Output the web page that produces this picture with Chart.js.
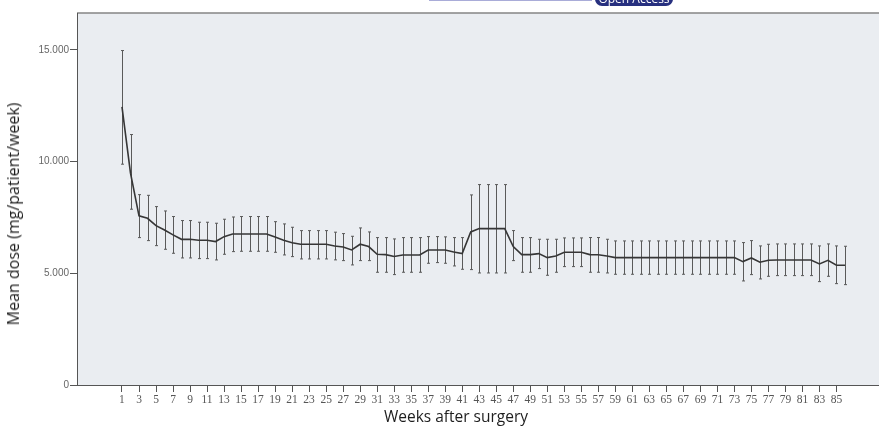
<!DOCTYPE html>
<html>
<head>
<meta charset="utf-8">
<script src="https://cdn.jsdelivr.net/npm/chart.js@4.4.1/dist/chart.umd.min.js"></script>
<style>
  body { margin: 0; background: #fff; }
  #wrap { position: relative; width: 879px; height: 426px; overflow: hidden; }
  #doseChart { position: absolute; left: 0; top: 0; }
  .hdrLine { position: absolute; left: 429px; top: 0; width: 163px; height: 1px; background: #a9acd8; }
  .badge { position: absolute; left: 595px; top: -9px; width: 78px; height: 15px; border-radius: 7px;
           background: #27307f; color: #fff; font: 12px "Open Sans", sans-serif; line-height: 15px; text-align: center; }
  .axTitle { position: absolute; font-family: "Open Sans", sans-serif; font-weight: 400; color: #1e1e1e; white-space: nowrap; }
  #yTitle { left: 13px; top: 214px; font-size: 16px; transform: translate(-50%, -50%) rotate(-90deg); }
  #xTitle { left: 456px; top: 416px; font-size: 15.5px; transform: translate(-50%, -50%); }
</style>
</head>
<body>
<div id="wrap">
  <canvas id="doseChart" width="879" height="426"></canvas>
  <div class="hdrLine"></div>
  <div class="badge">Open Access</div>
  <div class="axTitle" id="yTitle">Mean dose (mg/patient/week)</div>
  <div class="axTitle" id="xTitle">Weeks after surgery</div>
</div>
<script>
// semanas 1..86
var weeks = [];
for (var w = 1; w <= 86; w++) weeks.push(w);

var weekLabels = [1, 3, 5, 7, 9, 11, 13, 15, 17, 19, 21, 23, 25, 27, 29, 31, 33, 35, 37, 39, 41,
    43, 45, 47, 49, 51, 53, 55, 57, 59, 61, 63, 65, 67, 69, 71, 73, 75, 77, 79, 81, 83, 85];
var doseTicks = [0, 5000, 10000, 15000];

var meanDose = [
    12450, 9480, 7570, 7460, 7135, 6940, 6720, 6520, 6520, 6480,
    6480, 6420, 6640, 6760, 6760, 6760, 6760, 6760, 6620, 6480,
    6370, 6300, 6300, 6300, 6300, 6220, 6180, 6045, 6300, 6195,
    5850, 5836, 5750, 5820, 5820, 5820, 6045, 6045, 6045, 5956,
    5880, 6850, 7000, 7000, 7000, 7000, 6195, 5836, 5836, 5880,
    5700, 5776, 5940, 5940, 5940, 5836, 5830, 5777, 5700, 5700,
    5700, 5700, 5700, 5700, 5700, 5700, 5700, 5700, 5700, 5700,
    5700, 5700, 5700, 5523, 5687, 5493, 5582, 5597, 5597, 5597,
    5597, 5597, 5418, 5582, 5359, 5359
];
var upperDose = [
    14970, 11210, 8520, 8490, 7985, 7790, 7540, 7360, 7360, 7285,
    7285, 7240, 7420, 7520, 7540, 7540, 7540, 7540, 7310, 7210,
    7060, 6910, 6910, 6910, 6910, 6840, 6777, 6657, 7030, 6851,
    6597, 6597, 6538, 6597, 6597, 6597, 6642, 6642, 6630, 6597,
    6597, 8508, 8970, 8970, 8970, 8970, 6911, 6597, 6597, 6523,
    6523, 6523, 6583, 6583, 6583, 6600, 6600, 6523, 6448, 6448,
    6448, 6448, 6448, 6448, 6448, 6448, 6448, 6448, 6448, 6448,
    6448, 6448, 6448, 6374, 6463, 6225, 6299, 6314, 6314, 6314,
    6314, 6314, 6225, 6314, 6225, 6210
];
var lowerDose = [
    9883, 7868, 6597, 6462, 6238, 6075, 5896, 5687, 5687, 5657,
    5657, 5597, 5851, 5970, 5985, 5985, 5985, 5985, 5940, 5821,
    5746, 5642, 5642, 5642, 5642, 5600, 5567, 5374, 5567, 5567,
    5046, 5046, 4941, 5046, 5046, 5046, 5448, 5478, 5448, 5329,
    5180, 5165, 5015, 5015, 5015, 5015, 5567, 5046, 5046, 5210,
    4911, 5046, 5299, 5299, 5299, 5046, 5046, 5015, 4956, 4956,
    4956, 4956, 4956, 4956, 4956, 4956, 4956, 4956, 4956, 4956,
    4956, 4956, 4956, 4657, 4941, 4747, 4866, 4896, 4896, 4896,
    4896, 4896, 4627, 4866, 4537, 4492
];

// fundo cinza e linha superior da área do gráfico
var plotBackground = {
    id: 'plotBackground',
    beforeDraw: function (chart) {
        var a = chart.chartArea, c = chart.ctx;
        c.save();
        c.fillStyle = '#eaedf1';
        c.fillRect(a.left, a.top, a.right - a.left, a.bottom - a.top);
        c.strokeStyle = '#858585';
        c.lineWidth = 1.5;
        c.beginPath();
        c.moveTo(a.left, a.top);
        c.lineTo(a.right, a.top);
        c.stroke();
        c.restore();
    }
};

// barras de erro desenhadas pelas escalas do Chart.js
var errorBars = {
    id: 'errorBars',
    beforeDatasetsDraw: function (chart) {
        var xs = chart.scales.x, ys = chart.scales.y, c = chart.ctx;
        c.save();
        c.strokeStyle = '#5a5a5a';
        c.lineWidth = 1;
        c.beginPath();
        weeks.forEach(function (wk, i) {
            var x = Math.round(xs.getPixelForValue(wk)) + 0.5;
            var yHi = ys.getPixelForValue(upperDose[i]);
            var yLo = ys.getPixelForValue(lowerDose[i]);
            c.moveTo(x, yHi); c.lineTo(x, yLo);
            c.moveTo(x - 1.5, yHi); c.lineTo(x + 1.5, yHi);
            c.moveTo(x - 1.5, yLo); c.lineTo(x + 1.5, yLo);
        });
        c.stroke();
        c.restore();
    }
};

function fmtDose(v) {
    return String(v).replace(/\B(?=(\d{3})+(?!\d))/g, '.');
}

var ctx = document.getElementById('doseChart').getContext('2d');
var doseChart = new Chart(ctx, {
    type: 'line',
    data: {
        datasets: [{
            label: 'Mean dose',
            data: weeks.map(function (wk, i) { return { x: wk, y: meanDose[i] }; }),
            borderColor: '#363636',
            borderWidth: 1.6,
            pointRadius: 0,
            tension: 0,
            fill: false
        }]
    },
    options: {
        responsive: false,
        animation: false,
        devicePixelRatio: 1,
        layout: { padding: { top: 13, right: 0, left: 0, bottom: 0 } },
        plugins: { legend: { display: false }, tooltip: { enabled: false } },
        scales: {
            x: {
                type: 'linear',
                min: -4.29,
                max: 90,
                afterBuildTicks: function (axis) {
                    axis.ticks = weekLabels.map(function (v) { return { value: v }; });
                },
                afterFit: function (axis) { axis.height = 41; },
                grid: { drawOnChartArea: false, drawTicks: true, tickLength: 7, color: '#555' },
                border: { display: true, color: '#555', width: 1 },
                ticks: {
                    autoSkip: false,
                    maxRotation: 0,
                    padding: 1,
                    color: '#555',
                    font: { family: 'Liberation Serif', size: 11.5 }
                }
            },
            y: {
                min: 0,
                max: 16650,
                afterBuildTicks: function (axis) {
                    axis.ticks = doseTicks.map(function (v) { return { value: v }; });
                },
                afterFit: function (axis) { axis.width = 77; },
                grid: { drawOnChartArea: false, drawTicks: true, tickLength: 7, color: '#555' },
                border: { display: true, color: '#555', width: 1 },
                ticks: {
                    padding: 1,
                    color: '#666',
                    font: { family: 'Liberation Sans', size: 10 },
                    callback: function (v) { return fmtDose(v); }
                }
            }
        }
    },
    plugins: [plotBackground, errorBars]
});
</script>
</body>
</html>
